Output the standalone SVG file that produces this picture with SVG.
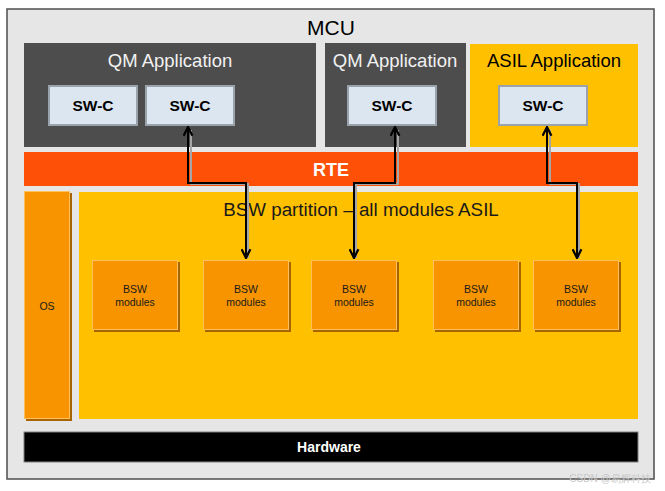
<svg xmlns="http://www.w3.org/2000/svg" width="665" height="491" viewBox="0 0 665 491">
<style>
text{font-family:"Liberation Sans",Arial,sans-serif;text-anchor:middle}
.app-qm{fill:#4d4d4d}
.app-asil{fill:#ffc000}
.swc{fill:#dce6f1;stroke:#9aa3ab;stroke-width:2}
.swct{font-size:15.5px;font-weight:bold;fill:#000}
.bsw{fill:#f79400;stroke:#ffbf5a;stroke-width:1}
.shadow{fill:#a86400}
.bswt{font-size:10.5px;fill:#1a1a1a}
.conn{fill:none;stroke:#000;stroke-width:2}
.connsh{fill:none;stroke:#a6a6a6;stroke-width:2}
</style>
<defs>
<marker id="ah" viewBox="0 0 10 10" refX="9" refY="5" markerWidth="5.5" markerHeight="5.5" orient="auto-start-reverse" markerUnits="strokeWidth">
<path d="M1,1 L9,5 L1,9" fill="none" stroke="#000" stroke-width="2"/>
</marker>
</defs>
<rect width="665" height="491" fill="#ffffff"/>
<g id="mcu">
<rect x="7" y="9" width="647" height="470" fill="#e6e6e6" stroke="#4d4d4d" stroke-width="1.5"/>
<text x="331" y="35" font-size="21" fill="#000">MCU</text>
</g>
<g id="qm-app-1">
<rect class="app-qm" x="24" y="43" width="292" height="104"/>
<text x="170" y="67" font-size="18.5" fill="#f2f2f2">QM Application</text>
</g>
<g id="qm-app-2">
<rect class="app-qm" x="325" y="43" width="141" height="104"/>
<text x="395" y="67" font-size="18.5" fill="#f2f2f2">QM Application</text>
</g>
<g id="asil-app">
<rect class="app-asil" x="470" y="44" width="168" height="103"/>
<text x="554" y="67" font-size="18.5" fill="#000">ASIL Application</text>
</g>
<g id="swc-1">
<rect class="swc" x="49" y="86" width="88" height="39"/>
<text class="swct" x="93" y="111">SW-C</text>
</g>
<g id="swc-2">
<rect class="swc" x="146" y="86" width="88" height="39"/>
<text class="swct" x="190" y="111">SW-C</text>
</g>
<g id="swc-3">
<rect class="swc" x="348" y="86" width="88" height="39"/>
<text class="swct" x="392" y="111">SW-C</text>
</g>
<g id="swc-4">
<rect class="swc" x="499" y="86" width="88" height="39"/>
<text class="swct" x="543" y="111">SW-C</text>
</g>
<g id="rte">
<rect x="24" y="152" width="614" height="34" fill="#ff5008"/>
<text x="331" y="176" font-size="18" font-weight="bold" fill="#ffffff">RTE</text>
</g>
<g id="os">
<rect class="shadow" x="26" y="193" width="46" height="228"/>
<rect class="bsw" x="24.5" y="191.5" width="45" height="227"/>
<text class="bswt" x="47" y="310">OS</text>
</g>
<g id="bsw-partition">
<rect x="79" y="192" width="559" height="227" fill="#ffc000"/>
<text x="361" y="216" font-size="18.8" fill="#1a1a1a">BSW partition – all modules ASIL</text>
</g>
<g id="bsw-1">
<rect class="shadow" x="94" y="262" width="86" height="70"/>
<rect class="bsw" x="92.5" y="260.5" width="85" height="69"/>
<text class="bswt" x="135" y="293">BSW</text>
<text class="bswt" x="135" y="306">modules</text>
</g>
<g id="bsw-2">
<rect class="shadow" x="205" y="262" width="86" height="70"/>
<rect class="bsw" x="203.5" y="260.5" width="85" height="69"/>
<text class="bswt" x="246" y="293">BSW</text>
<text class="bswt" x="246" y="306">modules</text>
</g>
<g id="bsw-3">
<rect class="shadow" x="313" y="262" width="86" height="70"/>
<rect class="bsw" x="311.5" y="260.5" width="85" height="69"/>
<text class="bswt" x="354" y="293">BSW</text>
<text class="bswt" x="354" y="306">modules</text>
</g>
<g id="bsw-4">
<rect class="shadow" x="435" y="262" width="86" height="70"/>
<rect class="bsw" x="433.5" y="260.5" width="85" height="69"/>
<text class="bswt" x="476" y="293">BSW</text>
<text class="bswt" x="476" y="306">modules</text>
</g>
<g id="bsw-5">
<rect class="shadow" x="535" y="262" width="86" height="70"/>
<rect class="bsw" x="533.5" y="260.5" width="85" height="69"/>
<text class="bswt" x="576" y="293">BSW</text>
<text class="bswt" x="576" y="306">modules</text>
</g>
<g id="hardware">
<rect x="24" y="432" width="614" height="30" fill="#000" stroke="#7f7f7f" stroke-width="1"/>
<text x="329" y="452" font-size="14" font-weight="bold" fill="#ffffff">Hardware</text>
</g>
<g id="connectors">
<path class="connsh" d="M191,130 V184 H248 V258"/>
<path class="connsh" d="M398,130 V184 H356 V258"/>
<path class="connsh" d="M550,130 V184 H579 V258"/>
<path class="conn" d="M188,127 V183 H246 V258" marker-start="url(#ah)" marker-end="url(#ah)"/>
<path class="conn" d="M395,127 V183 H354 V258" marker-start="url(#ah)" marker-end="url(#ah)"/>
<path class="conn" d="M547,127 V183 H577 V258" marker-start="url(#ah)" marker-end="url(#ah)"/>
</g>
<text x="610" y="482" font-size="10" fill="#c8c8c8" font-family="'Liberation Sans','Noto Sans CJK SC',sans-serif">CSDN @易辉科技</text>
</svg>
